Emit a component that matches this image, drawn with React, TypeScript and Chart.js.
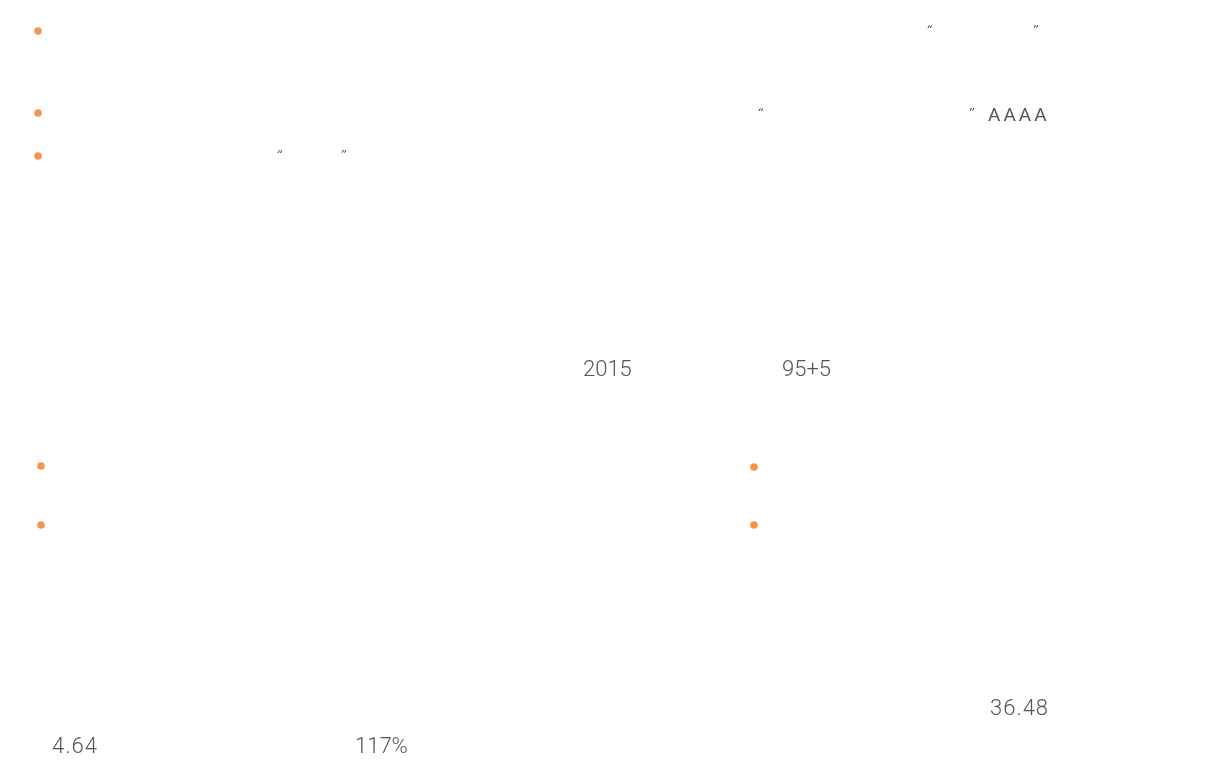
import React, { useEffect, useRef } from "react";
import { Chart, registerables } from "chart.js";

Chart.register(...registerables);

// Orange bullet points (page coordinates)
const dotX = [38, 38, 38, 41, 41, 754, 754];
const dotY = [31, 113, 156, 466, 525, 467, 525];

// Text fragments that are visible
const labelTexts = ["\u201C", "\u201D", "\u201C", "\u201D", "AAAA", "\u201C", "\u201D", "2015", "95+5", "36.48", "4.64", "117%"];
const labelX = [926, 1032, 757, 968, 988, 276, 340, 583, 782, 990, 52, 355];
const labelY = [31, 31, 114, 114, 116, 156, 156, 370, 370, 709, 747, 747];
const labelKinds = ["q", "q", "q", "q", "a", "q", "q", "n", "n", "n", "n", "n"];

const textPlugin = {
  id: "pageText",
  afterDatasetsDraw(chart: any) {
    const { ctx, scales } = chart;
    ctx.save();
    ctx.textAlign = "left";
    ctx.textBaseline = "middle";
    labelTexts.forEach((t, i) => {
      const px = scales.x.getPixelForValue(labelX[i]);
      const py = scales.y.getPixelForValue(labelY[i]);
      const k = labelKinds[i];
      if (k === "q") {
        ctx.font = "italic 12px 'DejaVu Sans'";
        ctx.fillStyle = "#555";
        (ctx as any).letterSpacing = "0px";
      } else if (k === "a") {
        ctx.font = "400 19px Roboto";
        ctx.fillStyle = "#555";
        (ctx as any).letterSpacing = "3px";
      } else {
        ctx.font = "300 22px Roboto";
        ctx.fillStyle = "#555";
        (ctx as any).letterSpacing = t.indexOf(".") >= 0 ? "1px" : "0px";
      }
      ctx.fillText(t, px, py);
    });
    ctx.restore();
  },
};

export default function App() {
  const ref = useRef<HTMLCanvasElement | null>(null);
  useEffect(() => {
    if (!ref.current) return;
    const chart = new Chart(ref.current, {
      type: "scatter",
      data: {
        datasets: [
          {
            data: dotX.map((x, i) => ({ x, y: dotY[i] })),
            pointRadius: 3.8,
            pointHoverRadius: 3.8,
            pointBackgroundColor: "#F59450",
            pointBorderWidth: 0,
            borderWidth: 0,
          },
        ],
      },
      options: {
        responsive: false,
        animation: false,
        layout: { padding: 0, autoPadding: false },
        plugins: { legend: { display: false }, tooltip: { enabled: false } },
        scales: {
          x: { type: "linear", min: 0, max: 1226, display: false },
          y: { type: "linear", min: 0, max: 770, reverse: true, display: false },
        },
      },
      plugins: [textPlugin],
    });
    return () => chart.destroy();
  }, []);
  return (
    <div style={{ position: "absolute", left: 0, top: 0, width: 1226, height: 770, background: "#fff" }}>
      <canvas ref={ref} width={1226} height={770} />
    </div>
  );
}
